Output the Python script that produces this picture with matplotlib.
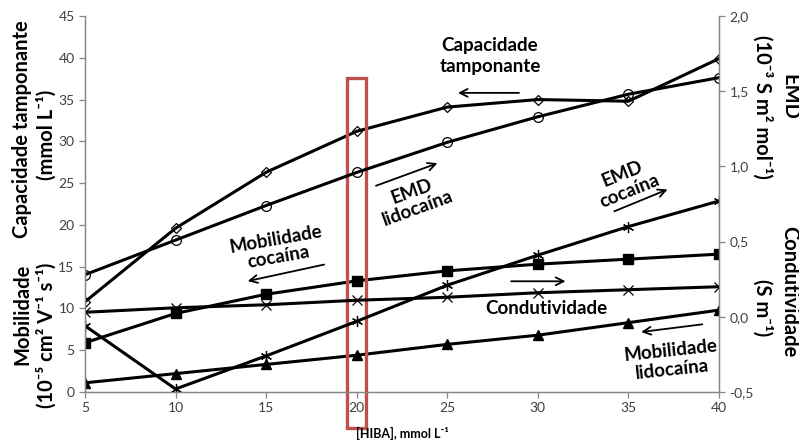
import matplotlib
matplotlib.use("Agg")
import matplotlib.pyplot as plt
from matplotlib.patches import Rectangle
from matplotlib.ticker import FuncFormatter

plt.rcParams['font.family'] = ['Lato', 'DejaVu Sans']

# [HIBA], mmol/L
hiba = [5, 10, 15, 20, 25, 30, 35, 40]

# left axis
cap_tamponante = [10.8, 19.6, 26.3, 31.2, 34.1, 35.0, 34.8, 39.9]   # mmol/L
mob_cocaina = [5.9, 9.4, 11.7, 13.3, 14.5, 15.3, 15.9, 16.5]         # 1e-5 cm2/V/s
mob_lidocaina = [1.1, 2.2, 3.3, 4.4, 5.7, 6.8, 8.3, 9.8]

# right axis
emd_lidocaina = [0.28, 0.51, 0.74, 0.96, 1.16, 1.33, 1.48, 1.59]    # 1e-3 S m2/mol
emd_cocaina = [-0.06, -0.48, -0.26, -0.03, 0.21, 0.41, 0.60, 0.77]
condutividade = [0.03, 0.06, 0.08, 0.11, 0.13, 0.16, 0.18, 0.20]   # S/m

W, H = 799, 441
fig = plt.figure(figsize=(W / 100, H / 100), dpi=100)
ax = fig.add_axes([85 / W, 1 - 392 / H, (719 - 85) / W, (392 - 16) / H])
ax2 = ax.twinx()

axis_gray = '#868686'
lbl_gray = '#404040'
lw = 2.2

ax.plot(hiba, cap_tamponante, color='black', lw=lw, marker='D', ms=5, mfc='none', mew=0.9)
ax.plot(hiba, mob_cocaina, color='black', lw=lw, marker='s', ms=6.5)
ax.plot(hiba, mob_lidocaina, color='black', lw=lw, marker='^', ms=7)
ax2.plot(hiba, emd_lidocaina, color='black', lw=lw, marker='o', ms=7, mfc='none', mew=0.9)
ax2.plot(hiba, emd_cocaina, color='black', lw=lw, marker=(6, 2, 0), ms=8, mew=0.9)
ax2.plot(hiba, condutividade, color='black', lw=lw, marker='x', ms=7, mew=0.9)

ax.set_xlim(5, 40)
ax.set_ylim(0, 45)
ax2.set_ylim(-0.5, 2.0)
ax.set_xticks(hiba)
ax.set_yticks(range(0, 50, 5))
ax2.set_yticks([-0.5, 0, 0.5, 1.0, 1.5, 2.0])
ax2.yaxis.set_major_formatter(FuncFormatter(lambda v, p: f"{v:.1f}".replace('.', ',')))

for a in (ax, ax2):
    for s in a.spines.values():
        s.set_color(axis_gray)
        s.set_linewidth(0.9)
    a.spines['top'].set_visible(False)
    a.tick_params(colors=axis_gray, labelcolor=lbl_gray, labelsize=10, length=4, width=0.9)

# highlighted column
ax.add_patch(Rectangle((19.45, -4.3), 1.05, 41.9, fill=False, ec='#C0504D', lw=2.4,
                       clip_on=False, zorder=10))

tk = dict(fontweight='bold', fontsize=13.5, ha='center', va='center', color='black')
arr = dict(arrowstyle='->', color='black', lw=1.3, mutation_scale=14)

ax.text(27.36, 40.2, 'Capacidade\ntamponante', linespacing=1.3, **tk)
ax.annotate('', xy=(25.43, 35.8), xytext=(29.11, 35.8), arrowprops=arr)

ax.text(23.2, 23.0, 'EMD\nlidocaína', rotation=20, linespacing=1.1, **tk)
ax.annotate('', xy=(24.6, 27.49), xytext=(20.92, 24.57), arrowprops=arr)

ax.text(34.87, 25.1, 'EMD\ncocaína', rotation=22, linespacing=1.1, **tk)
ax.annotate('', xy=(37.3, 24.37), xytext=(34.08, 21.5), arrowprops=arr)

ax.text(15.6, 17.2, 'Mobilidade\ncocaína', rotation=10, linespacing=1.1, **tk)
ax.annotate('', xy=(13.83, 13.2), xytext=(18.35, 15.32), arrowprops=arr)

ax.text(30.49, 10.0, 'Condutividade', **tk)
ax.annotate('', xy=(31.68, 13.25), xytext=(28.37, 13.25), arrowprops=arr)

ax.text(37.36, 3.8, 'Mobilidade\nlidocaína', rotation=6, linespacing=1.1, **tk)
ax.annotate('', xy=(35.55, 7.14), xytext=(39.23, 8.14), arrowprops=arr)

# axis titles
ab = dict(fontweight='bold', fontsize=14.5, ha='center', va='center', color='black')
fig.text(22 / W, 1 - 129 / H, 'Capacidade tamponante', rotation=90, **ab)
fig.text(47 / W, 1 - 135 / H, '(mmol L⁻¹)', rotation=90, **ab)
fig.text(22 / W, 1 - 314 / H, 'Mobilidade', rotation=90, **ab)
fig.text(47 / W, 1 - 335 / H, '(10⁻⁵ cm² V⁻¹ s⁻¹)', rotation=90, **ab)
fig.text(789 / W, 1 - 97 / H, 'EMD', rotation=-90, **ab)
fig.text(762 / W, 1 - 107 / H, '(10⁻³ S m² mol⁻¹)', rotation=-90, **ab)
fig.text(789 / W, 1 - 292 / H, 'Condutividade', rotation=-90, **ab)
fig.text(762 / W, 1 - 308 / H, '(S m⁻¹)', rotation=-90, **ab)

fig.text(402 / W, 1 - 433 / H, '[HIBA], mmol L⁻¹', fontweight='bold',
         fontsize=9, ha='center', va='center')

fig.savefig('out.png', dpi=100)
